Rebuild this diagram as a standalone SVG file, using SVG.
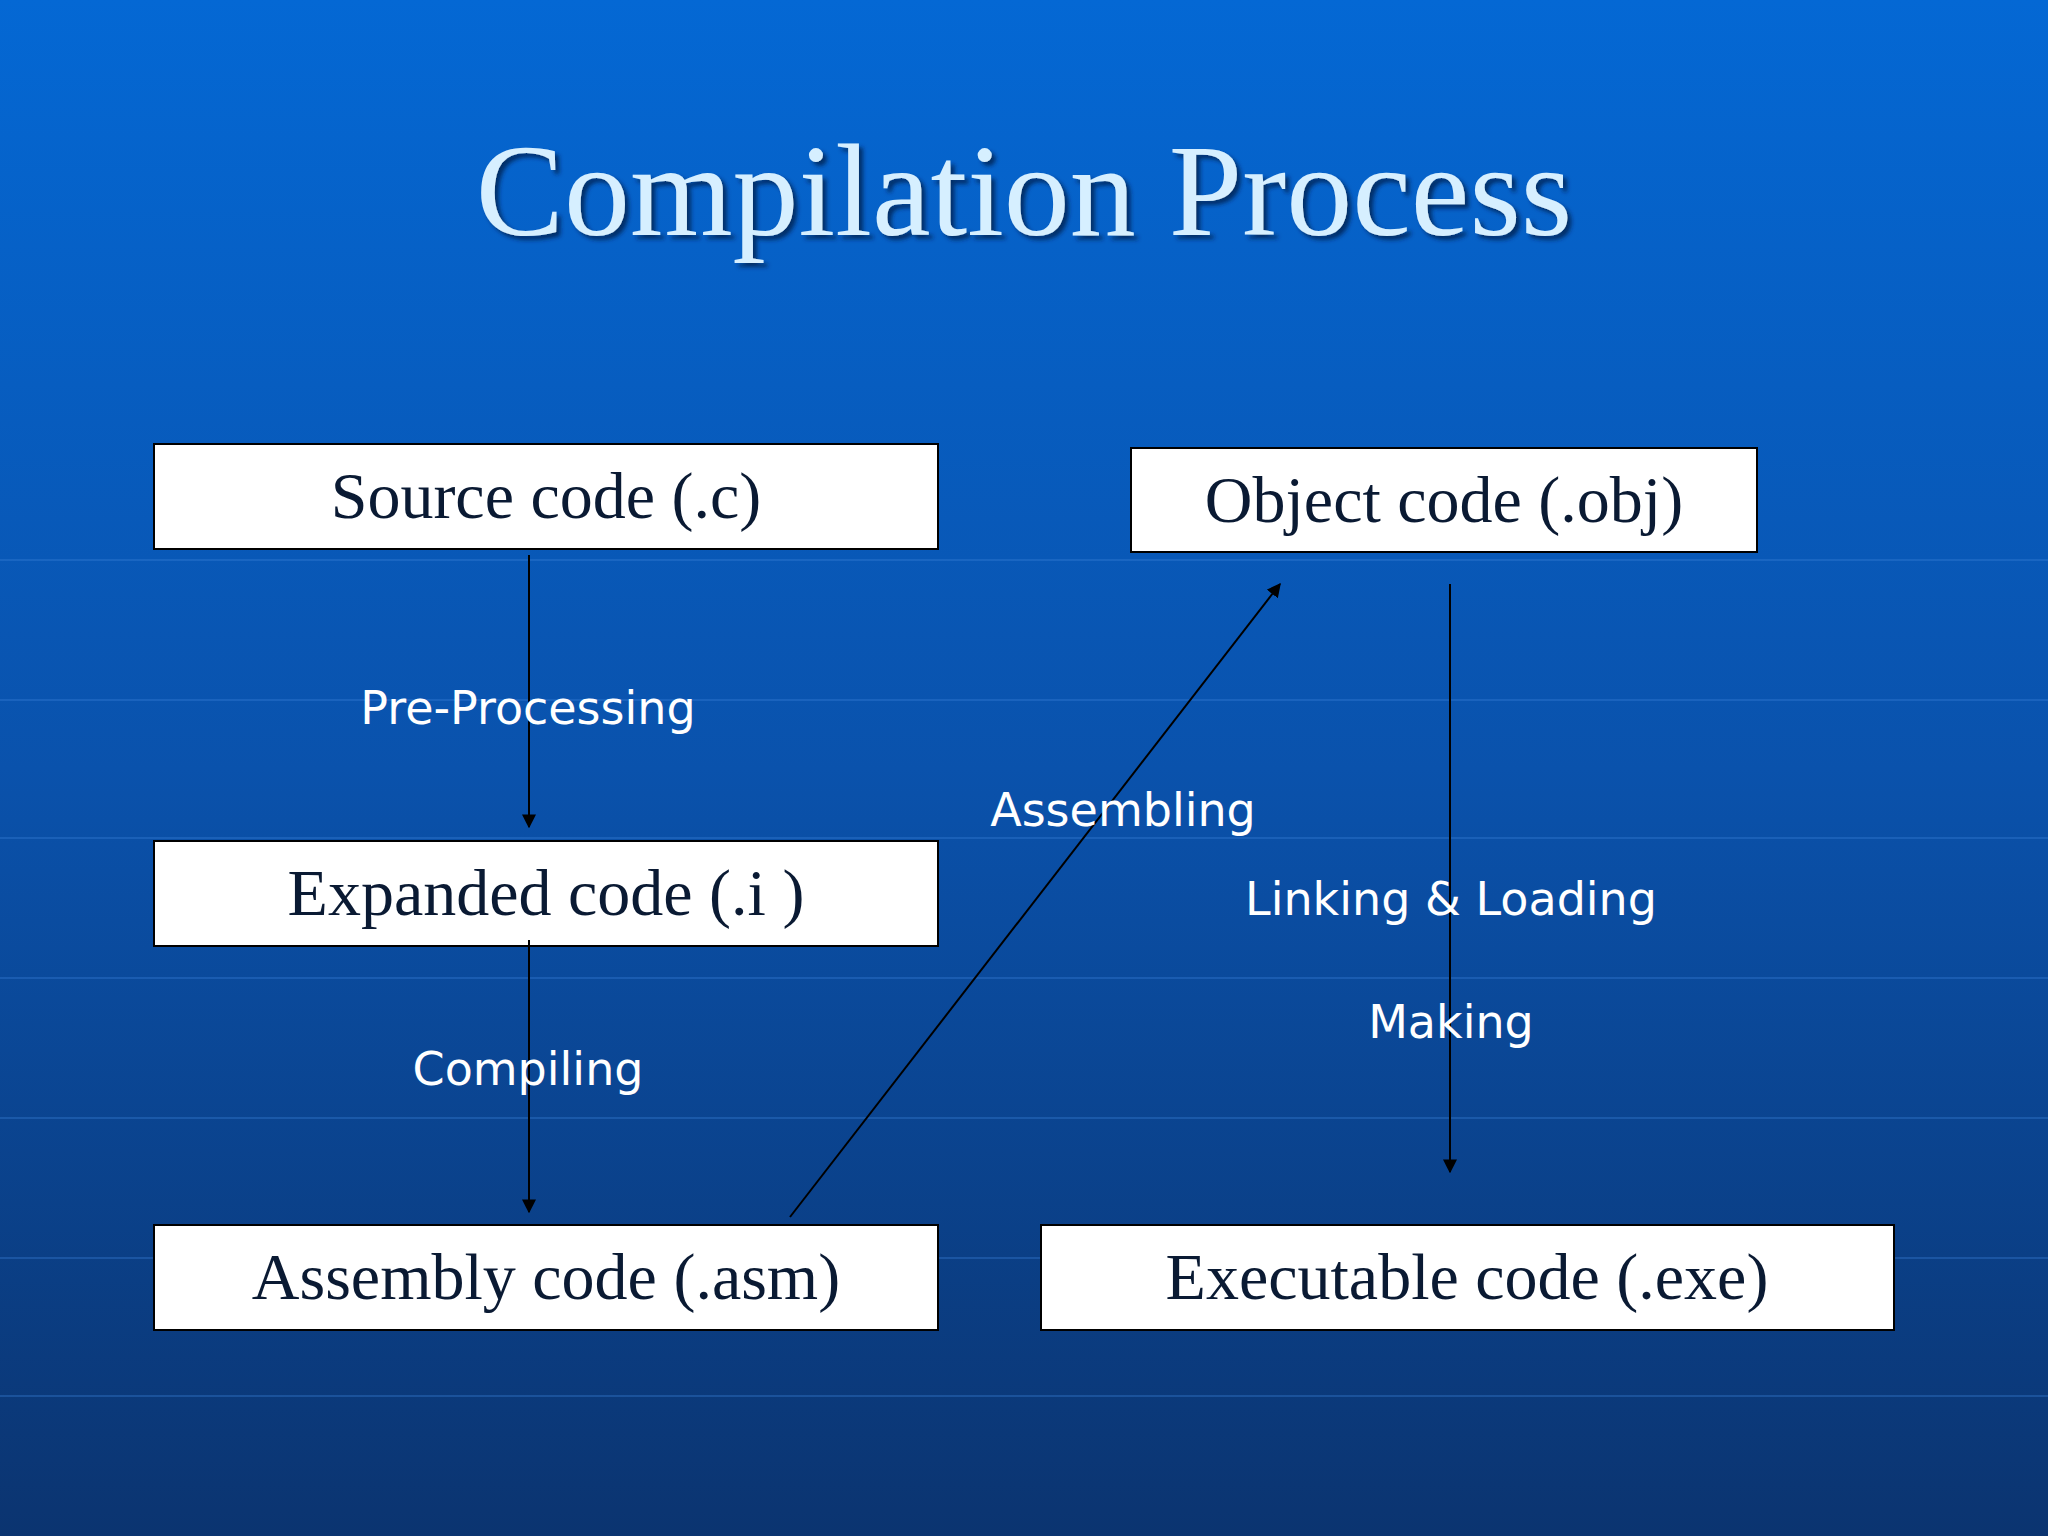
<svg xmlns="http://www.w3.org/2000/svg" width="2048" height="1536" viewBox="0 0 2048 1536">
<defs>
<linearGradient id="bg" x1="0" y1="0" x2="0" y2="1">
<stop offset="0" stop-color="#0468d4"/>
<stop offset="0.5" stop-color="#0a52ac"/>
<stop offset="1" stop-color="#0b3470"/>
</linearGradient>
<marker id="ah" viewBox="0 0 10 10" refX="9" refY="5" markerWidth="7" markerHeight="7" orient="auto">
<path d="M0,0 L10,5 L0,10 z" fill="#000"/>
</marker>
<filter id="sh"><feDropShadow dx="4" dy="4" stdDeviation="2" flood-color="#002050" flood-opacity="0.8"/></filter>
</defs>
<style>
.box{fill:#fff;stroke:#000;stroke-width:2}
.bt{font-family:"Liberation Serif",serif;font-size:66px;fill:#0a1a33;text-anchor:middle}
.lb{font-family:"DejaVu Sans",sans-serif;font-size:46px;fill:#fff;text-anchor:middle}
.ar{stroke:#000;stroke-width:2;fill:none;marker-end:url(#ah)}
.gl{stroke:#3a80d8;stroke-width:2;opacity:0.35;fill:none}
</style>
<rect width="2048" height="1536" fill="url(#bg)"/>
<g class="gl">
<line x1="0" y1="560" x2="2048" y2="560"/>
<line x1="0" y1="700" x2="2048" y2="700"/>
<line x1="0" y1="838" x2="2048" y2="838"/>
<line x1="0" y1="978" x2="2048" y2="978"/>
<line x1="0" y1="1118" x2="2048" y2="1118"/>
<line x1="0" y1="1258" x2="2048" y2="1258"/>
<line x1="0" y1="1396" x2="2048" y2="1396"/>
</g>
<text x="1024" y="235" font-family="Liberation Serif,serif" font-size="132" fill="#d6efff" text-anchor="middle" filter="url(#sh)">Compilation Process</text>
<g id="n-source"><rect class="box" x="154" y="444" width="784" height="105"/><text class="bt" x="546" y="518">Source code (.c)</text></g>
<g id="n-object"><rect class="box" x="1131" y="448" width="626" height="104"/><text class="bt" x="1444" y="522">Object code (.obj)</text></g>
<g id="n-expanded"><rect class="box" x="154" y="841" width="784" height="105"/><text class="bt" x="546" y="915">Expanded code (.i )</text></g>
<g id="n-assembly"><rect class="box" x="154" y="1225" width="784" height="105"/><text class="bt" x="546" y="1299">Assembly code (.asm)</text></g>
<g id="n-exe"><rect class="box" x="1041" y="1225" width="853" height="105"/><text class="bt" x="1467" y="1299">Executable code (.exe)</text></g>
<g id="connectors">
<line class="ar" x1="529" y1="555" x2="529" y2="827"/>
<line class="ar" x1="529" y1="940" x2="529" y2="1212"/>
<line class="ar" x1="790" y1="1217" x2="1280" y2="584"/>
<line class="ar" x1="1450" y1="584" x2="1450" y2="1172"/>
<text class="lb" x="528" y="724">Pre-Processing</text>
<text class="lb" x="528" y="1085">Compiling</text>
<text class="lb" x="1123" y="826">Assembling</text>
<text class="lb" x="1451" y="915">Linking &amp; Loading</text>
<text class="lb" x="1451" y="1038">Making</text>
</g>
</svg>
